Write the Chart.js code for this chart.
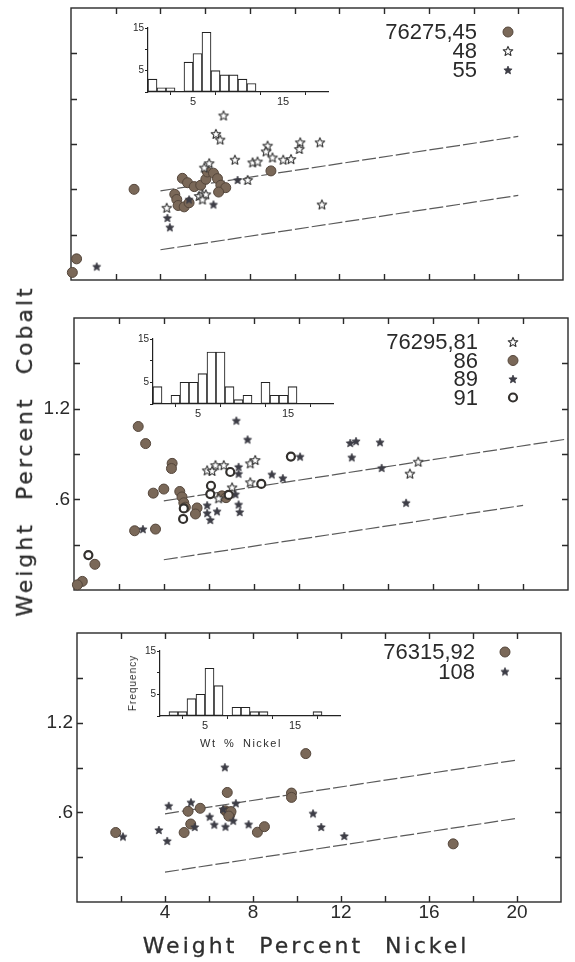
<!DOCTYPE html>
<html><head><meta charset="utf-8">
<script src="https://cdn.jsdelivr.net/npm/chart.js@4"></script>
<style>
html,body{margin:0;padding:0;background:#fff;}
body{width:575px;height:962px;position:relative;overflow:hidden;}
canvas{position:absolute;left:0;top:0;}
.t{position:absolute;color:#2e2e2e;white-space:nowrap;line-height:1;}
.axt{font-family:"DejaVu Sans",sans-serif;font-size:22px;letter-spacing:3px;word-spacing:12px;-webkit-text-stroke:0.3px #2e2e2e;}
.small{font-family:"Liberation Sans",Arial,sans-serif;}
</style></head>
<body>
<canvas id="p1" width="575" height="962"></canvas>
<canvas id="p2" width="575" height="962"></canvas>
<canvas id="p3" width="575" height="962"></canvas>
<canvas id="h1" width="575" height="962"></canvas>
<canvas id="h2" width="575" height="962"></canvas>
<canvas id="h3" width="575" height="962"></canvas>
<div class="t axt" style="left:306px;top:946px;transform:translate(-50%,-50%);">Weight Percent Nickel</div>
<div class="t axt" style="left:25px;top:451px;transform:translate(-50%,-50%) rotate(-90deg);">Weight Percent Cobalt</div>
<div class="t small" style="left:133px;top:683px;font-size:10px;letter-spacing:1px;transform:translate(-50%,-50%) rotate(-90deg);">Frequency</div>
<div class="t small" style="left:241px;top:743px;font-size:11px;letter-spacing:1.5px;word-spacing:3px;transform:translate(-50%,-50%);">Wt % Nickel</div>
<script>
// ---------------- DATA ----------------
const xTickLabels = [4, 8, 12, 16, 20];
const yTickLabels = [0.6, 1.2];
const histTickLabels = [5, 15];

// reference lines (x, y endpoints)
const upperLineX = [4, 20];
const upperLineY = [0.59, 0.95];
const upperLineMidX = [4, 22];
const upperLineMidY = [0.59, 1.0];
const lowerLineX = [4, 20];
const lowerLineY = [0.2, 0.56];

// Panel 1: 76275
const p1Names = ['76275,45', '48', '55'];
const p1CircleX = [0.06, 0.25, 2.82, 4.98, 5.21, 5.51, 5.80, 6.03, 6.10, 6.37, 6.55, 6.70, 6.92, 6.60, 4.64, 4.73, 4.79, 5.06, 5.28, 8.94];
const p1CircleY = [0.05, 0.14, 0.60, 0.673, 0.644, 0.618, 0.627, 0.667, 0.715, 0.707, 0.671, 0.627, 0.611, 0.582, 0.567, 0.533, 0.493, 0.484, 0.511, 0.722];
const p1OpenStarX = [6.82, 6.48, 6.67, 8.79, 8.72, 9.01, 7.33, 8.12, 8.34, 9.49, 9.84, 10.25, 10.21, 11.13, 6.18, 5.96, 7.90, 5.73, 5.88, 6.03, 5.88, 11.22, 4.28];
const p1OpenStarY = [1.089, 0.967, 0.929, 0.889, 0.851, 0.811, 0.796, 0.778, 0.784, 0.796, 0.80, 0.911, 0.867, 0.911, 0.773, 0.744, 0.662, 0.556, 0.567, 0.567, 0.533, 0.50, 0.478];
const p1StarX = [1.15, 7.45, 6.37, 4.31, 4.42, 5.28];
const p1StarY = [0.089, 0.662, 0.50, 0.411, 0.349, 0.533];
const h1Counts = [3, 1, 1, 0, 7, 9, 14, 5, 4, 4, 3, 2];

// Panel 2: 76295
const p2Names = ['76295,81', '86', '89', '91'];
const p2OpenStarX = [5.93, 6.30, 6.67, 6.15, 7.85, 8.07, 7.85, 7.04, 6.44, 14.96, 15.33];
const p2OpenStarY = [0.792, 0.826, 0.826, 0.788, 0.838, 0.860, 0.713, 0.679, 0.607, 0.770, 0.849];
const p2CircleX = [2.86, 3.19, 4.37, 4.34, 3.53, 4.00, 2.70, 3.63, 0.93, 0.37, 0.15, 4.71, 4.81, 4.89, 4.96, 5.48, 5.41, 6.59, 6.77];
const p2CircleY = [1.082, 0.969, 0.838, 0.804, 0.641, 0.668, 0.392, 0.403, 0.170, 0.057, 0.034, 0.652, 0.616, 0.577, 0.548, 0.543, 0.503, 0.623, 0.611];
const p2StarX = [7.23, 7.73, 7.33, 7.33, 8.81, 9.30, 12.30, 12.56, 13.63, 12.37, 13.70, 14.79, 10.07, 3.07, 5.93, 6.07, 6.37, 5.93, 7.33, 7.38, 7.19];
const p2StarY = [1.121, 0.996, 0.815, 0.770, 0.765, 0.740, 0.973, 0.985, 0.978, 0.878, 0.808, 0.577, 0.883, 0.403, 0.561, 0.464, 0.521, 0.509, 0.566, 0.516, 0.634];
const p2RingX = [0.64, 4.89, 4.86, 6.07, 6.10, 6.96, 6.89, 8.34, 9.66];
const p2RingY = [0.231, 0.540, 0.470, 0.635, 0.690, 0.781, 0.629, 0.702, 0.883];
const h2Counts = [4, 0, 2, 5, 5, 7, 12, 12, 4, 1, 2, 0, 5, 2, 2, 4];

// Panel 3: 76315
const p3Names = ['76315,92', '108'];
const p3CircleX = [1.76, 10.40, 17.10, 6.83, 9.75, 9.75, 5.05, 5.60, 5.17, 4.87, 8.20, 8.52, 6.75, 6.85, 6.95, 7.00, 6.90];
const p3CircleY = [0.465, 0.993, 0.389, 0.733, 0.729, 0.700, 0.607, 0.627, 0.522, 0.465, 0.467, 0.504, 0.610, 0.600, 0.585, 0.605, 0.575];
const p3StarX = [2.09, 4.17, 3.72, 4.10, 5.18, 5.35, 6.03, 6.24, 6.75, 6.72, 7.22, 7.10, 7.80, 10.73, 11.10, 12.15, 6.64];
const p3StarY = [0.438, 0.644, 0.482, 0.409, 0.667, 0.502, 0.571, 0.518, 0.504, 0.902, 0.661, 0.544, 0.520, 0.593, 0.502, 0.442, 0.622];
const h3Counts = [0, 1, 1, 4, 5, 11, 7, 0, 2, 2, 1, 1, 0, 0, 0, 0, 0, 1];

// ---------------- STYLE / HELPERS ----------------
const INK = '#2a2a2a';
const BROWN = '#7a6858';
const BROWN_EDGE = '#54463b';
const STAR_INK = '#3d3d46';
const Y_BOX = 50, X_BOX = 32, HY_BOX = 18, HX_BOX = 16;

function starCanvas(r, fill, stroke, lw) {
  const s = Math.ceil(2 * r + lw + 2);
  const c = document.createElement('canvas');
  c.width = s; c.height = s;
  const g = c.getContext('2d');
  const cx = s / 2, cy = s / 2 + 0.4;
  g.beginPath();
  for (let i = 0; i < 10; i++) {
    const a = -Math.PI / 2 + i * Math.PI / 5;
    const rr = i % 2 ? r * 0.45 : r;
    g.lineTo(cx + rr * Math.cos(a), cy + rr * Math.sin(a));
  }
  g.closePath();
  g.fillStyle = fill; g.fill();
  g.lineJoin = 'round'; g.lineWidth = lw; g.strokeStyle = stroke; g.stroke();
  return c;
}
const openStar = starCanvas(5, '#ffffff', '#333333', 1.1);
const fullStar = starCanvas(4.3, STAR_INK, STAR_INK, 0.8);

const toPts = (xs, ys) => xs.map((v, i) => ({ x: v, y: ys[i] }));
const round1 = v => Math.round(v * 10) / 10;

function lineDs(xs, ys) {
  return { type: 'line', data: toPts(xs, ys), borderColor: '#5a5a5a', borderWidth: 1.2,
    borderDash: [14, 3], pointRadius: 0, fill: false, showLine: true, clip: false, order: 5 };
}
function circleDs(xs, ys) {
  return { data: toPts(xs, ys), pointStyle: 'circle', pointRadius: 5, backgroundColor: BROWN,
    borderColor: BROWN_EDGE, borderWidth: 1, clip: false, order: 3 };
}
function ringDs(xs, ys) {
  return { data: toPts(xs, ys), pointStyle: 'circle', pointRadius: 4, backgroundColor: '#fff',
    borderColor: '#33302d', borderWidth: 2.2, clip: false, order: 1 };
}
function openStarDs(xs, ys) {
  return { data: toPts(xs, ys), pointStyle: openStar, pointRadius: 4, clip: false, order: 2 };
}
function fullStarDs(xs, ys) {
  return { data: toPts(xs, ys), pointStyle: fullStar, pointRadius: 4, clip: false, order: 2 };
}

const framePlugin = {
  id: 'frame',
  beforeDatasetsDraw(chart) {
    const { ctx, chartArea: a, scales: { x, y } } = chart;
    ctx.save();
    ctx.strokeStyle = INK; ctx.lineWidth = 1.4;
    ctx.strokeRect(a.left, a.top, a.right - a.left, a.bottom - a.top);
    const L = 6;
    ctx.beginPath();
    x.ticks.forEach(t => {
      if (t.value <= x.min || t.value >= x.max) return;
      const p = Math.round(x.getPixelForValue(t.value)) + 0.5;
      ctx.moveTo(p, a.bottom); ctx.lineTo(p, a.bottom - L);
      ctx.moveTo(p, a.top); ctx.lineTo(p, a.top + L);
    });
    y.ticks.forEach(t => {
      if (t.value <= y.min + 1e-9 || t.value >= y.max - 1e-9) return;
      const p = Math.round(y.getPixelForValue(t.value)) + 0.5;
      ctx.moveTo(a.left, p); ctx.lineTo(a.left + L, p);
      ctx.moveTo(a.right, p); ctx.lineTo(a.right - L, p);
    });
    ctx.stroke();
    ctx.restore();
  }
};

const legendPlugin = {
  id: 'panelLegend',
  afterDraw(chart, args, opts) {
    const ctx = chart.ctx;
    ctx.save();
    ctx.font = '22px "Liberation Sans", Arial, sans-serif';
    ctx.fillStyle = INK; ctx.textAlign = 'right'; ctx.textBaseline = 'middle';
    opts.items.forEach((it, i) => {
      const yy = opts.y + i * opts.dy;
      ctx.fillText(it.text, opts.textX, yy + 1);
      const ds = chart.data.datasets[it.ds];
      const st = ds.pointStyle;
      if (typeof st === 'object') {
        ctx.drawImage(st, opts.markerX - st.width / 2, yy - st.height / 2);
      } else {
        ctx.beginPath();
        ctx.arc(opts.markerX, yy, ds.pointRadius, 0, Math.PI * 2);
        ctx.fillStyle = ds.backgroundColor; ctx.fill();
        ctx.lineWidth = ds.borderWidth; ctx.strokeStyle = ds.borderColor; ctx.stroke();
        ctx.fillStyle = INK;
      }
    });
    ctx.restore();
  }
};

function mainChart(id, rect, datasets, showX, showY, legend) {
  return new Chart(document.getElementById(id), {
    type: 'scatter',
    data: { datasets },
    options: {
      responsive: false, animation: false, devicePixelRatio: 1, events: [],
      layout: { padding: { left: rect.l - Y_BOX, top: rect.t, right: 575 - rect.r, bottom: 962 - rect.b - X_BOX } },
      plugins: { legend: { display: false }, tooltip: { enabled: false }, panelLegend: legend },
      scales: {
        x: {
          type: 'linear', min: 0, max: 22,
          afterFit: s => { s.height = X_BOX; },
          grid: { display: false, drawTicks: false }, border: { display: false },
          ticks: {
            display: showX, stepSize: 2, autoSkip: false, maxRotation: 0, padding: -1,
            color: INK, font: { family: '"Liberation Sans", Arial, sans-serif', size: 19 },
            callback: v => xTickLabels.includes(v) ? String(v) : ''
          }
        },
        y: {
          type: 'linear', min: 0, max: 1.8,
          afterFit: s => { s.width = Y_BOX; },
          grid: { display: false, drawTicks: false }, border: { display: false },
          ticks: {
            display: showY, stepSize: 0.3, autoSkip: false, padding: 4,
            color: INK, font: { family: '"Liberation Sans Narrow", "Liberation Sans", Arial, sans-serif', size: 19 },
            callback: v => {
              const r = round1(v);
              if (!yTickLabels.includes(r)) return '';
              return r < 1 ? String(r).replace(/^0/, '') : r.toFixed(1);
            }
          }
        }
      }
    },
    plugins: [framePlugin, legendPlugin]
  });
}

function histChart(id, rect, counts) {
  const pts = counts.map((c, i) => ({ x: i + 0.5, y: c }));
  return new Chart(document.getElementById(id), {
    type: 'bar',
    data: { datasets: [{ data: pts, backgroundColor: '#ffffff', borderColor: '#222', borderWidth: 1.1,
      borderSkipped: false, barPercentage: 1, categoryPercentage: 1 }] },
    options: {
      responsive: false, animation: false, devicePixelRatio: 1, events: [],
      layout: { padding: { left: rect.l - HY_BOX, top: rect.t, right: 575 - rect.r, bottom: 962 - rect.b - HX_BOX } },
      plugins: { legend: { display: false }, tooltip: { enabled: false } },
      scales: {
        x: {
          type: 'linear', min: 0, max: 20, offset: false,
          afterFit: s => { s.height = HX_BOX; },
          grid: { display: true, drawOnChartArea: false, drawTicks: true, tickLength: 3, color: '#222', lineWidth: 1 },
          border: { display: true, color: '#222', width: 1.2 },
          ticks: { stepSize: 5, autoSkip: false, maxRotation: 0, padding: 0, color: INK,
            font: { family: '"Liberation Sans", Arial, sans-serif', size: 11 },
            callback: v => histTickLabels.includes(v) ? String(v) : '' }
        },
        y: {
          type: 'linear', min: 0, max: 15,
          afterFit: s => { s.width = HY_BOX; },
          grid: { display: true, drawOnChartArea: false, drawTicks: true, tickLength: 3, color: '#222', lineWidth: 1 },
          border: { display: true, color: '#222', width: 1.2 },
          ticks: { stepSize: 5, autoSkip: false, padding: 1, color: INK,
            font: { family: '"Liberation Sans", Arial, sans-serif', size: 10 },
            callback: v => histTickLabels.includes(v) ? String(v) : '' }
        }
      }
    }
  });
}

// ---------------- CHARTS ----------------
mainChart('p1', { l: 71, r: 563, t: 8, b: 280 }, [
  lineDs(upperLineX, upperLineY), lineDs(lowerLineX, lowerLineY),
  circleDs(p1CircleX, p1CircleY), openStarDs(p1OpenStarX, p1OpenStarY), fullStarDs(p1StarX, p1StarY)
], false, false, { textX: 477, markerX: 508, y: 32, dy: 19,
  items: [{ text: p1Names[0], ds: 2 }, { text: p1Names[1], ds: 3 }, { text: p1Names[2], ds: 4 }] });

mainChart('p2', { l: 74, r: 568, t: 318, b: 590 }, [
  lineDs(upperLineMidX, upperLineMidY), lineDs(lowerLineX, lowerLineY),
  openStarDs(p2OpenStarX, p2OpenStarY), circleDs(p2CircleX, p2CircleY),
  fullStarDs(p2StarX, p2StarY), ringDs(p2RingX, p2RingY)
], false, true, { textX: 478, markerX: 513, y: 342, dy: 18.5,
  items: [{ text: p2Names[0], ds: 2 }, { text: p2Names[1], ds: 3 }, { text: p2Names[2], ds: 4 }, { text: p2Names[3], ds: 5 }] });

mainChart('p3', { l: 77, r: 561, t: 633, b: 902 }, [
  lineDs(upperLineX, upperLineY), lineDs(lowerLineX, lowerLineY),
  circleDs(p3CircleX, p3CircleY), fullStarDs(p3StarX, p3StarY)
], true, true, { textX: 475, markerX: 505, y: 652, dy: 19.5,
  items: [{ text: p3Names[0], ds: 2 }, { text: p3Names[1], ds: 3 }] });

histChart('h1', { l: 148, r: 328, t: 28, b: 92 }, h1Counts);
histChart('h2', { l: 153, r: 333, t: 339, b: 404 }, h2Counts);
histChart('h3', { l: 160, r: 340, t: 651, b: 716 }, h3Counts);
</script>
</body></html>
